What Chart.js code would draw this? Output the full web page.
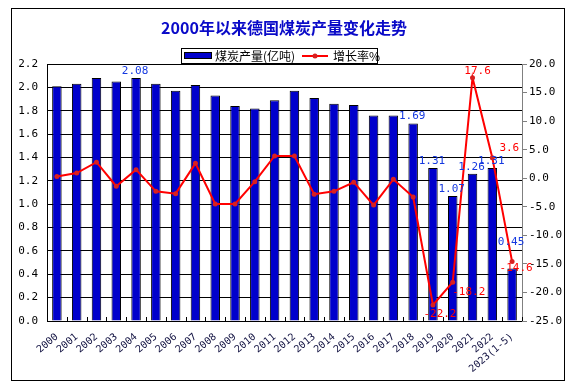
<!DOCTYPE html>
<html>
<head>
<meta charset="utf-8">
<script src="https://cdn.jsdelivr.net/npm/chart.js@4/dist/chart.umd.min.js"></script>
<style>
  html, body { margin: 0; padding: 0; background: #fff; }
  #wrap { width: 577px; height: 390px; }
</style>
</head>
<body>
<div id="wrap"><canvas id="c" width="577" height="390"></canvas></div>
<script>
// categories and series
const years = ['2000', '2001', '2002', '2003', '2004', '2005', '2006', '2007', '2008', '2009',
    '2010', '2011', '2012', '2013', '2014', '2015', '2016', '2017', '2018', '2019',
    '2020', '2021', '2022', '2023(1-5)'];
const output = [2.01, 2.03, 2.08, 2.05, 2.08, 2.03, 1.97, 2.02, 1.93, 1.84,
    1.82, 1.89, 1.97, 1.91, 1.86, 1.85, 1.76, 1.76, 1.69, 1.31,
    1.07, 1.26, 1.31, 0.45];
const growth = [0.3, 0.9, 2.8, -1.4, 1.5, -2.3, -2.7, 2.6, -4.5, -4.5,
    -0.6, 3.9, 3.9, -2.8, -2.3, -0.7, -4.7, -0.2, -3.3, -22.2,
    -18.2, 17.6, 3.6, -14.6];

// axis ranges
const leftMin = 0, leftMax = 2.2, leftStep = 0.2;
const rightMin = -25, rightMax = 20, rightStep = 5;

// which points carry a value label
const barLabelIdx = [4, 18, 19, 20, 21, 22, 23];
const lineLabelIdx = [19, 20, 21, 22, 23];

const MONO = '"DejaVu Sans Mono", "Liberation Mono", monospace';
const CJK = '"Noto Sans CJK SC", "Noto Sans", sans-serif';

// frame, title and legend box
const decor = {
    id: 'decor',
    beforeDraw(chart) {
        const ctx = chart.ctx;
        ctx.save();
        ctx.fillStyle = '#fff';
        ctx.fillRect(0, 0, chart.width, chart.height);
        ctx.restore();
    },
    afterDraw(chart) {
        const ctx = chart.ctx;
        ctx.save();
        // outer frame
        ctx.strokeStyle = '#000';
        ctx.lineWidth = 1;
        ctx.strokeRect(11.5, 8.5, 553, 372);

        // title
        ctx.fillStyle = '#0a0ac8';
        ctx.font = 'bold 16px ' + CJK;
        ctx.textAlign = 'center';
        ctx.textBaseline = 'middle';
        ctx.fillText('2000年以来德国煤炭产量变化走势', 284, 28);

        // legend
        ctx.fillStyle = '#fff';
        ctx.fillRect(181, 48, 197, 15);
        ctx.strokeStyle = '#000';
        ctx.strokeRect(181.5, 48.5, 196, 15);
        ctx.fillStyle = '#0000cc';
        ctx.fillRect(184, 52, 28, 7);
        ctx.strokeRect(184.5, 52.5, 27, 6);
        ctx.fillStyle = '#000';
        ctx.font = '12px ' + CJK;
        ctx.textAlign = 'left';
        ctx.fillText('煤炭产量(亿吨)', 215, 56);
        ctx.strokeStyle = '#ff0000';
        ctx.lineWidth = 2;
        ctx.beginPath();
        ctx.moveTo(302, 56);
        ctx.lineTo(328, 56);
        ctx.stroke();
        ctx.fillStyle = '#d82020';
        ctx.beginPath();
        ctx.arc(315, 56, 2.5, 0, Math.PI * 2);
        ctx.fill();
        ctx.fillStyle = '#000';
        ctx.fillText('增长率%', 333, 56);
        ctx.restore();
    }
};

// value labels and inner x ticks
const valueLabels = {
    id: 'valueLabels',
    afterDatasetsDraw(chart) {
        const ctx = chart.ctx;
        const xs = chart.scales.x;
        ctx.save();

        // small tick marks between categories, pointing up into the plot
        ctx.strokeStyle = '#000';
        ctx.lineWidth = 1;
        const step = (xs.right - xs.left) / years.length;
        for (let k = 0; k <= years.length; k++) {
            const x = Math.round(xs.left + k * step) + 0.5;
            ctx.beginPath();
            ctx.moveTo(x, xs.top);
            ctx.lineTo(x, xs.top - 4);
            ctx.stroke();
        }

        ctx.font = '11px ' + MONO;
        ctx.textAlign = 'center';
        ctx.textBaseline = 'middle';

        const barMeta = chart.getDatasetMeta(1);
        ctx.fillStyle = '#1438e0';
        barLabelIdx.forEach(i => {
            const el = barMeta.data[i];
            const dy = i === 23 ? -26 : -7;
            ctx.fillText(output[i].toFixed(2), el.x - 1, el.y + dy);
        });

        // offsets of each growth label from its point
        const off = { 19: [7, 9], 20: [16, 10], 21: [5, -7], 22: [17, -10], 23: [4, 7] };
        const lineMeta = chart.getDatasetMeta(0);
        ctx.fillStyle = '#ff0000';
        lineLabelIdx.forEach(i => {
            const el = lineMeta.data[i];
            ctx.fillText(growth[i].toFixed(1), el.x + off[i][0], el.y + off[i][1]);
        });
        ctx.restore();
    }
};

new Chart(document.getElementById('c'), {
    data: {
        labels: years,
        datasets: [
            {
                type: 'line',
                label: '增长率%',
                data: growth,
                yAxisID: 'y1',
                borderColor: '#ff0000',
                borderWidth: 2,
                pointRadius: 2.5,
                pointBackgroundColor: '#d82020',
                pointBorderColor: '#d82020',
                pointBorderWidth: 0,
                tension: 0,
                order: 0
            },
            {
                type: 'bar',
                label: '煤炭产量(亿吨)',
                data: output,
                yAxisID: 'y',
                backgroundColor: '#0000cc',
                borderColor: '#000',
                borderWidth: 1,
                borderSkipped: 'bottom',
                categoryPercentage: 1,
                barPercentage: 0.48,
                order: 1
            }
        ]
    },
    options: {
        responsive: false,
        animation: false,
        events: [],
        layout: { padding: { top: 64, left: 0, right: 12, bottom: 10 } },
        plugins: {
            legend: { display: false },
            tooltip: { enabled: false }
        },
        scales: {
            x: {
                offset: true,
                grid: { display: false },
                border: { color: '#000', width: 1 },
                ticks: {
                    color: '#101040',
                    font: { family: MONO, size: 10 },
                    minRotation: 40,
                    maxRotation: 40,
                    autoSkip: false,
                    padding: 2
                },
                afterFit: s => { s.height = 59; }
            },
            y: {
                position: 'left',
                min: leftMin,
                max: leftMax,
                ticks: {
                    stepSize: leftStep,
                    color: '#000',
                    font: { family: MONO, size: 11 },
                    padding: 9,
                    callback: v => v.toFixed(1)
                },
                grid: { color: '#000', lineWidth: 1, drawTicks: false },
                border: { color: '#000', width: 1 },
                afterFit: s => { s.width = 47; }
            },
            y1: {
                position: 'right',
                min: rightMin,
                max: rightMax,
                ticks: {
                    stepSize: rightStep,
                    color: '#000',
                    font: { family: MONO, size: 11 },
                    padding: 2,
                    callback: v => v.toFixed(1)
                },
                grid: { drawOnChartArea: false, color: '#808080', tickLength: 5 },
                border: { color: '#808080', width: 1 },
                afterFit: s => { s.width = 43; }
            }
        }
    },
    plugins: [decor, valueLabels]
});
</script>
</body>
</html>
